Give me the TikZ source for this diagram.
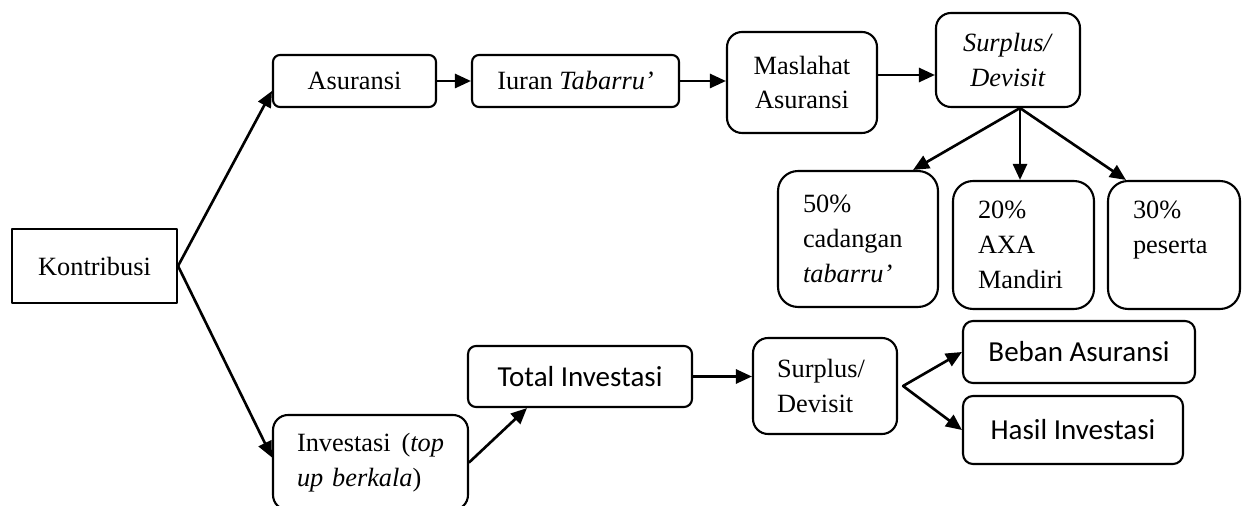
\documentclass[tikz,border=0pt]{standalone}
\usepackage{fontspec}
\setmainfont{Liberation Serif}
\newfontfamily\calibri{Carlito}
\usetikzlibrary{arrows.meta}

\begin{document}
\begin{tikzpicture}[line cap=round,line join=round,>={Triangle[length=0.32cm,width=0.28cm]},x=0.02cm,y=-0.02cm,
  font=\fontsize{15}{19.9}\selectfont,
  box/.style={draw,line width=1.2pt,inner sep=0pt,align=center},
  rbox/.style={box,rounded corners=#1},
  lbox/.style={rbox=#1,align=left,inner xsep=0.5cm},
  cal/.style={font=\calibri\fontsize{16.5}{20}\selectfont},
  arr/.style={->,line width=1.5pt}]
\useasboundingbox (0,0) rectangle (1247,506);
\clip (0,0) rectangle (1247,506);
% asuransi
\node[box,minimum width=3.3cm,minimum height=1.48cm] (kon) at (94.5,266) {Kontribusi};
\node[rbox=0.14cm,minimum width=3.26cm,minimum height=1.04cm] (asr) at (354.5,81) {Asuransi};
\node[rbox=0.14cm,minimum width=4.14cm,minimum height=1.04cm] (iur) at (575.5,81) {Iuran \textit{Tabarru'}};
\node[rbox=0.3cm,minimum width=3cm,minimum height=2.02cm] (mas) at (802,82.5) {Maslahat\\Asuransi};
\node[rbox=0.3cm,minimum width=2.88cm,minimum height=1.88cm] (sur) at (1008,60) {\textit{Surplus/}\\\textit{Devisit}};
\node[lbox=0.4cm,text width=2.2cm,minimum width=3.2cm,minimum height=2.72cm] (p50) at (858,239) {50\%\\cadangan\\\textit{tabarru'}};
\node[lbox=0.4cm,text width=1.82cm,minimum width=2.82cm,minimum height=2.56cm] (p20) at (1023.5,245) {20\%\\AXA\\Mandiri};
\node[lbox=0.4cm,text width=1.64cm,minimum width=2.64cm,minimum height=2.56cm] (p30) at (1174,245) {30\%\\peserta\\\vphantom{M}};
% investasi
\node[lbox=0.3cm,inner xsep=0.48cm,text width=2.94cm,minimum width=3.9cm,minimum height=1.9cm] (inv) at (370.5,462.5) {Investasi\hskip 0pt plus 1filll(\textit{top}\\\textit{up berkala})};
\node[rbox=0.16cm,cal,minimum width=4.48cm,minimum height=1.22cm] (tot) at (580,376.5) {Total Investasi};
\node[lbox=0.3cm,inner xsep=0.48cm,text width=1.92cm,minimum width=2.88cm,minimum height=1.92cm] (sr2) at (825,386) {Surplus/\\Devisit};
\node[rbox=0.2cm,cal,minimum width=4.64cm,minimum height=1.24cm] (beb) at (1079,352) {Beban Asuransi};
\node[rbox=0.2cm,cal,minimum width=4.4cm,minimum height=1.36cm] (has) at (1073,430) {Hasil Investasi};
% panah
\draw[arr] (kon.east) -- ([yshift=-0.2cm]asr.west);
\draw[arr] (kon.east) -- ([yshift=0.1cm]inv.west);
\draw[arr] (asr.east) -- (iur.west);
\draw[arr] (iur.east) -- (iur.east -| mas.west);
\draw[arr] ([yshift=0.15cm]mas.east) -- ([yshift=0.15cm]mas.east -| sur.west);
\coordinate (sd) at ([xshift=0.24cm]sur.south);
\draw[arr] (sd) -- ([xshift=-0.52cm]p50.north east);
\draw[arr] (sd) -- (sd |- p20.north);
\draw[arr] (sd) -- ([xshift=0.38cm]p30.north west);
\draw[arr] (inv.east) -- ([xshift=1.2cm]tot.south west);
\draw[arr] (tot.east) -- (tot.east -| sr2.west);
\coordinate (sj) at ([xshift=0.1cm]sr2.east);
\draw[arr] (sj) -- (beb.west);
\draw[arr] (sj) -- (has.west);
\end{tikzpicture}
\end{document}
